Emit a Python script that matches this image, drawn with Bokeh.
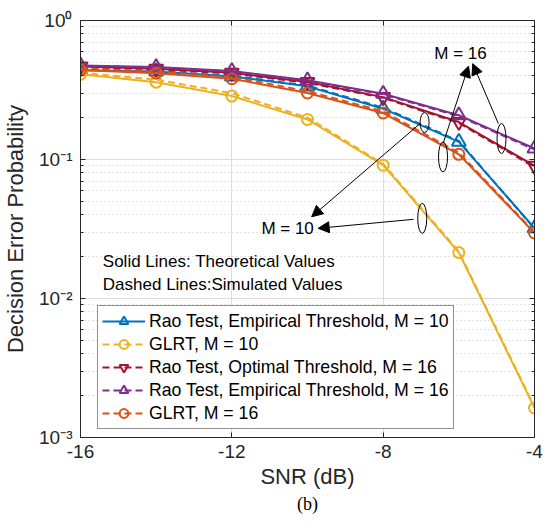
from bokeh.plotting import figure
from bokeh.models import (LinearAxis, LogAxis, FixedTicker, CustomJSTickFormatter,
                          Legend, LegendItem, Arrow, NormalHead, Label, Title)
from bokeh.embed import file_html
from bokeh.resources import INLINE

# ---------------- data ----------------
snr = [-16, -14, -12, -10, -8, -6, -4]

rao_emp_m10_theory = [0.438, 0.430, 0.396, 0.336, 0.232, 0.134, 0.0321]
rao_emp_m10_sim    = [0.442, 0.432, 0.400, 0.340, 0.236, 0.136, 0.0318]

glrt_m10_theory = [0.410, 0.360, 0.286, 0.194, 0.091, 0.0214, 0.00163]
glrt_m10_sim    = [0.420, 0.375, 0.300, 0.200, 0.093, 0.0218, 0.00166]

rao_opt_m16_theory = [0.467, 0.450, 0.420, 0.361, 0.281, 0.186, 0.090]
rao_opt_m16_sim    = [0.462, 0.446, 0.416, 0.356, 0.278, 0.183, 0.088]

rao_emp_m16_theory = [0.475, 0.462, 0.433, 0.371, 0.297, 0.208, 0.120]
rao_emp_m16_sim    = [0.472, 0.458, 0.430, 0.368, 0.294, 0.205, 0.118]

glrt_m16_theory = [0.440, 0.418, 0.381, 0.301, 0.216, 0.109, 0.0296]
glrt_m16_sim    = [0.455, 0.428, 0.392, 0.310, 0.222, 0.112, 0.0300]

labels = ["Rao Test, Empirical Threshold, M = 10",
          "GLRT, M = 10",
          "Rao Test, Optimal Threshold, M = 16",
          "Rao Test, Empirical Threshold, M = 16",
          "GLRT, M = 16"]

x_ticks = [-16, -12, -8, -4]
y_ticks = [1e-3, 1e-2, 1e-1, 1e0]

# ---------------- figure ----------------
FONT = "Liberation Sans"
TXT = "#262626"

p = figure(width=543, height=515, x_range=(-16, -4), y_range=(1e-3, 1),
           y_axis_type="log", output_backend="svg", toolbar_location=None,
           min_border_left=80, min_border_top=20, min_border_right=9,
           min_border_bottom=78, background_fill_color="white",
           border_fill_color="white")
p.outline_line_color = TXT
p.outline_line_width = 1

y_minor = [m * 10.0 ** e for e in (-3, -2, -1) for m in range(2, 10)]
yfmt = CustomJSTickFormatter(code="""
const sup = {'0':'\u2070','1':'\u00b9','2':'\u00b2','3':'\u00b3','-':'\u207b'};
const e = Math.round(Math.log10(tick)).toString();
let s = '';
for (const c of e) { s += sup[c]; }
return '10' + s;
""")
xfmt = CustomJSTickFormatter(code="return Math.round(tick).toString();")
blank = CustomJSTickFormatter(code="return ' ';")

p.xaxis.ticker = FixedTicker(ticks=x_ticks, minor_ticks=[])
p.yaxis.ticker = FixedTicker(ticks=y_ticks, minor_ticks=y_minor)
p.yaxis.formatter = yfmt
p.xaxis.formatter = xfmt

for ax in (p.xaxis, p.yaxis):
    ax.axis_line_color = TXT
    ax.major_tick_line_color = TXT
    ax.minor_tick_line_color = TXT
    ax.major_tick_in = 5
    ax.major_tick_out = 0
    ax.minor_tick_in = 3
    ax.minor_tick_out = 0
    ax.major_label_text_font = FONT
    ax.major_label_text_font_size = "19px"
    ax.major_label_text_color = TXT
    ax.axis_label_text_font = FONT
    ax.axis_label_text_font_size = "22px"
    ax.axis_label_text_font_style = "normal"
    ax.axis_label_text_color = TXT

p.xaxis.axis_label = "SNR (dB)"
p.yaxis.axis_label = "Decision Error Probability"
p.xaxis.major_label_standoff = 7
p.yaxis.major_label_standoff = 8
p.xaxis.axis_label_standoff = 3
p.yaxis.axis_label_standoff = 8

# mirrored box axes (no visible labels)
top = LinearAxis(ticker=FixedTicker(ticks=x_ticks, minor_ticks=[]), formatter=blank)
right = LogAxis(ticker=FixedTicker(ticks=y_ticks, minor_ticks=y_minor), formatter=blank)
for ax in (top, right):
    ax.axis_line_color = TXT
    ax.major_tick_line_color = TXT
    ax.minor_tick_line_color = TXT
    ax.major_tick_in = 5
    ax.major_tick_out = 0
    ax.minor_tick_in = 3
    ax.minor_tick_out = 0
    ax.major_label_text_font_size = "2px"
    ax.major_label_standoff = 0
p.add_layout(top, "above")
p.add_layout(right, "right")

p.xgrid.grid_line_color = "#dcdcdc"
p.ygrid.grid_line_color = "#dcdcdc"
p.ygrid.minor_grid_line_color = "#c8c8c8"
p.ygrid.minor_grid_line_dash = "1 3"

p.add_layout(Title(text="(b)", align="center", text_font="Liberation Serif",
                   text_font_size="18px", text_font_style="normal",
                   text_color="black", standoff=1), "below")

# ---------------- series ----------------
series = [
    (rao_emp_m10_theory, rao_emp_m10_sim, "#0072BD", "triangle", 14, "solid"),
    (glrt_m10_theory, glrt_m10_sim, "#EDB120", "circle", 11, "dashed"),
    (rao_opt_m16_theory, rao_opt_m16_sim, "#A2142F", "inverted_triangle", 14, "dashed"),
    (rao_emp_m16_theory, rao_emp_m16_sim, "#7E2F8E", "triangle", 14, "dashed"),
    (glrt_m16_theory, glrt_m16_sim, "#D95319", "circle", 11, "dashed"),
]

items = []
for (th, sim, col, mk, sz, leg), lab in zip(series, labels):
    r_solid = p.line(snr, th, line_color=col, line_width=2)
    r_dash = p.line(snr, sim, line_color=col, line_width=2, line_dash="7 4")
    r_mk = p.scatter(snr, th, marker=mk, size=sz, line_color=col, line_width=2,
                     fill_color=None)
    items.append(LegendItem(label=lab,
                            renderers=[r_solid if leg == "solid" else r_dash, r_mk]))

legend = Legend(items=items, location=(17, 8))
legend.label_text_font = FONT
legend.label_text_font_size = "17.7px"
legend.label_text_color = "black"
legend.glyph_width = 43
legend.glyph_height = 22
legend.label_height = 22
legend.label_standoff = 4
legend.spacing = 1
legend.padding = 4
legend.margin = 0
legend.border_line_color = TXT
legend.border_line_width = 1
legend.background_fill_color = "white"
legend.background_fill_alpha = 1
p.add_layout(legend, "center")

# ---------------- annotations ----------------
note_font = dict(text_font=FONT, text_font_size="17px", text_color="black")
p.add_layout(Label(x=-15.41, y=0.01832, text="Solid Lines: Theoretical Values",
                   text_baseline="middle", **note_font))
p.add_layout(Label(x=-15.41, y=0.01253, text="Dashed Lines:Simulated Values",
                   text_baseline="middle", **note_font))
big_font = dict(text_font=FONT, text_font_size="17px", text_color="black")
p.add_layout(Label(x=-5.956, y=0.5768, text="M = 16", text_align="center",
                   text_baseline="middle", **big_font))
p.add_layout(Label(x=-10.526, y=0.0320, text="M = 10", text_align="center",
                   text_baseline="middle", **big_font))

ell_x = [-6.905, -6.418, -4.872, -6.967]
ell_y = [0.1845, 0.1044, 0.1416, 0.03774]
ell_w = [9, 9, 9, 9]
ell_h = [20, 30, 30, 30]
p.ellipse(ell_x, ell_y, width=ell_w, height=ell_h, width_units="screen",
          height_units="screen", fill_color=None, line_color="black", line_width=1)

arrows = [(-7.026, 0.1814, -9.890, 0.03874),
          (-7.197, 0.03712, -9.718, 0.03199),
          (-6.410, 0.1316, -5.744, 0.4698),
          (-4.956, 0.1814, -5.633, 0.4889)]
for xs, ys, xe, ye in arrows:
    p.add_layout(Arrow(x_start=xs, y_start=ys, x_end=xe, y_end=ye,
                       line_color="black", line_width=1,
                       end=NormalHead(size=11, fill_color="black",
                                      line_color="black", line_width=1)))

open("out.html", "w").write(file_html(p, INLINE))
